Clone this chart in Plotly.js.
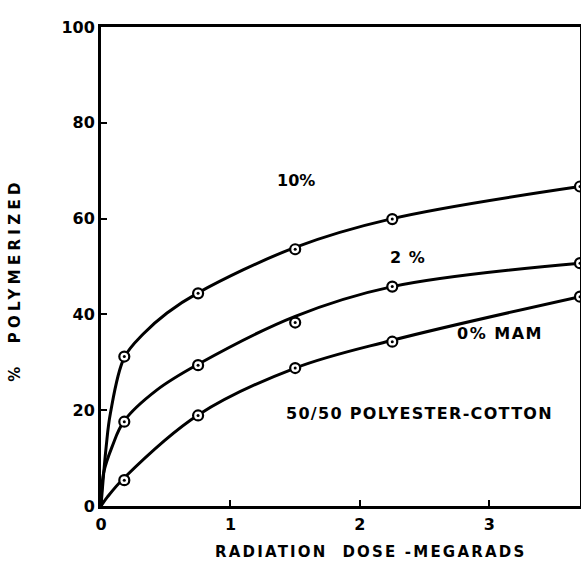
<!DOCTYPE html>
<html>
<head>
<meta charset="utf-8">
<script src="https://cdn.plot.ly/plotly-3.0.1.min.js"></script>
<style>html,body{margin:0;padding:0;background:#fff;}#chart{width:581px;height:561px;}</style>
</head>
<body>
<div id="chart"></div>
<script>
// Measured data points (dose in megarads, % polymerized)
var doses = [0.18, 0.75, 1.5, 2.25, 3.7];
var pts10 = [31.2, 44.4, 53.6, 59.9, 66.7];
var pts2  = [17.6, 29.4, 38.3, 45.8, 50.7];
var pts0  = [5.4, 18.9, 28.8, 34.3, 43.7];

// Smooth drawn curves
var curveX10 = [0, 0.04, 0.073, 0.18, 0.33, 0.51, 0.75, 1.5, 2.25, 3.7];
var curveY10 = [0, 12.4, 19.4, 31, 36, 40.3, 44.5, 54, 60, 66.7];
var curveX2  = [0, 0.02, 0.086, 0.18, 0.43, 0.75, 1.5, 2.25, 3.7];
var curveY2  = [0, 6.9, 12.4, 17.8, 24.2, 29.6, 39.6, 45.8, 50.7];
var curveX0  = [0, 0.05, 0.18, 0.75, 1.5, 2.25, 3.7];
var curveY0  = [0, 1.9, 5.9, 19, 28.8, 34.6, 43.7];

var xTicks = [0, 1, 2, 3];
var yTicks = [0, 20, 40, 60, 80, 100];

var labelFont = {family: 'DejaVu Sans', size: 16, color: '#000', weight: 'bold'};

function spaced(t, px) { return '<span style="letter-spacing:' + px + 'px">' + t + '</span>'; }

function curve(x, y) {
  return {x: x, y: y, mode: 'lines', type: 'scatter', hoverinfo: 'skip',
          line: {color: '#000', width: 3, shape: 'spline', smoothing: 1}, showlegend: false};
}
function ring(y) {
  return {x: doses, y: y, mode: 'markers', type: 'scatter', showlegend: false,
          marker: {symbol: 'circle', size: 10, color: '#fff', line: {color: '#000', width: 2.2}}};
}
function dot(y) {
  return {x: doses, y: y, mode: 'markers', type: 'scatter', showlegend: false,
          marker: {symbol: 'circle', size: 3, color: '#000', line: {width: 0}}};
}

var data = [
  curve(curveX10, curveY10), curve(curveX2, curveY2), curve(curveX0, curveY0),
  ring(pts10), ring(pts2), ring(pts0),
  dot(pts10), dot(pts2), dot(pts0)
];

var layout = {
  width: 581, height: 561,
  margin: {l: 101, r: 1, t: 27, b: 55},
  paper_bgcolor: '#fff', plot_bgcolor: '#fff',
  showlegend: false,
  xaxis: {
    range: [0, 3.70], tickvals: xTicks, ticktext: xTicks.map(String),
    showgrid: false, zeroline: false, showline: true, mirror: true,
    linecolor: '#000', linewidth: 3,
    ticks: 'inside', ticklen: 6, tickwidth: 2, tickcolor: '#000',
    tickfont: labelFont, ticklabelstandoff: 2
  },
  yaxis: {
    range: [0, 100], tickvals: yTicks, ticktext: yTicks.map(String),
    showgrid: false, zeroline: false, showline: true, mirror: true,
    linecolor: '#000', linewidth: 3,
    ticks: 'inside', ticklen: 6, tickwidth: 2, tickcolor: '#000',
    tickfont: labelFont, ticklabelstandoff: 0
  },
  annotations: [
    {text: '10%', x: 1.51, y: 68, xref: 'x', yref: 'y', showarrow: false, font: labelFont},
    {text: spaced('2 %', 1), x: 2.37, y: 51.8, xref: 'x', yref: 'y', showarrow: false, font: labelFont},
    {text: spaced('0% MAM', 1.5), x: 3.08, y: 36, xref: 'x', yref: 'y', showarrow: false, font: labelFont},
    {text: spaced('50/50 POLYESTER-COTTON', 1.3), x: 2.46, y: 19.4, xref: 'x', yref: 'y', showarrow: false, font: labelFont},
    {text: spaced('RADIATION  DOSE -MEGARADS', 2.2), x: 0.562, y: -0.096, xref: 'paper', yref: 'paper',
     xanchor: 'center', yanchor: 'middle', showarrow: false,
     font: {family: 'DejaVu Sans', size: 15, color: '#000', weight: 'bold'}},
    {text: spaced('%  POLYMERIZED', 4.3), x: -0.18, y: 0.472, xref: 'paper', yref: 'paper',
     xanchor: 'center', yanchor: 'middle', showarrow: false, textangle: -90,
     font: {family: 'DejaVu Sans', size: 15, color: '#000', weight: 'bold'}}
  ]
};

Plotly.newPlot('chart', data, layout, {displayModeBar: false, staticPlot: true});
</script>
</body>
</html>
